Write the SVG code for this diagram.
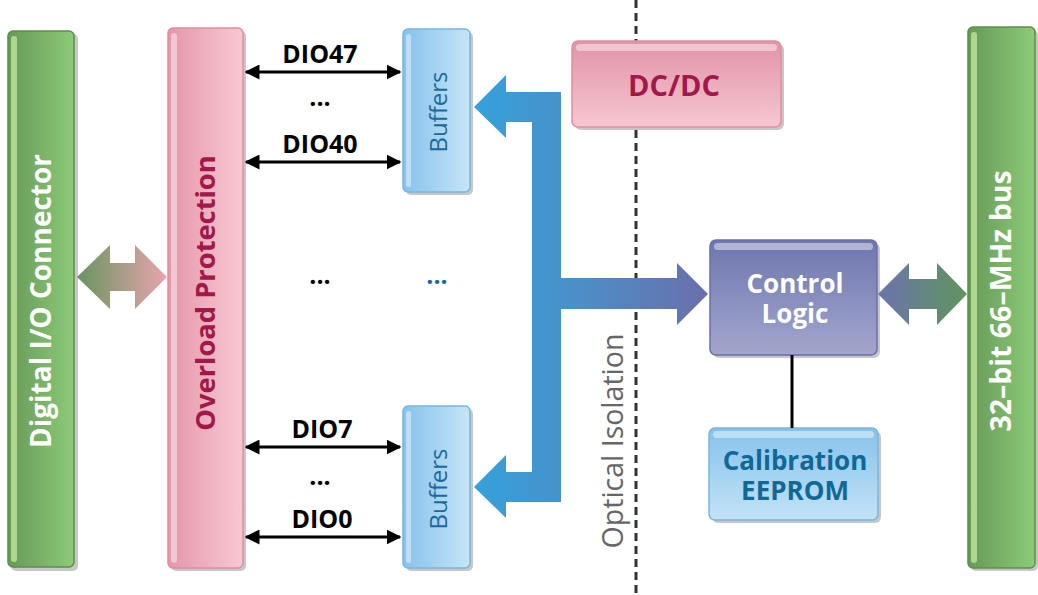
<svg xmlns="http://www.w3.org/2000/svg" width="1038" height="595" viewBox="0 0 1038 595">
<defs>
<linearGradient id="gGreen" x1="0" y1="0" x2="1" y2="0"><stop offset="0" stop-color="#679957"/><stop offset="1" stop-color="#8ccb78"/></linearGradient>
<linearGradient id="gPink" x1="0" y1="0" x2="1" y2="0"><stop offset="0" stop-color="#e596a9"/><stop offset="1" stop-color="#f8c9d3"/></linearGradient>
<linearGradient id="gBuf" x1="0" y1="0" x2="1" y2="0"><stop offset="0" stop-color="#86c2eb"/><stop offset="1" stop-color="#c6e5f8"/></linearGradient>
<linearGradient id="gDC" x1="0" y1="0" x2="0" y2="1"><stop offset="0" stop-color="#e094a7"/><stop offset="1" stop-color="#f7c6d1"/></linearGradient>
<linearGradient id="gCtl" x1="0" y1="0" x2="0" y2="1"><stop offset="0" stop-color="#6d76ae"/><stop offset="1" stop-color="#a3a6cd"/></linearGradient>
<linearGradient id="gCal" x1="0" y1="0" x2="0" y2="1"><stop offset="0" stop-color="#86c2eb"/><stop offset="1" stop-color="#c2e3f8"/></linearGradient>
<linearGradient id="gBus" gradientUnits="userSpaceOnUse" x1="474" y1="0" x2="708" y2="0"><stop offset="0" stop-color="#34a1dc"/><stop offset="0.4" stop-color="#4a91c9"/><stop offset="1" stop-color="#6a6fac"/></linearGradient>
<linearGradient id="gL" gradientUnits="userSpaceOnUse" x1="77" y1="0" x2="167" y2="0"><stop offset="0" stop-color="#6a9460"/><stop offset="1" stop-color="#e8a4ae"/></linearGradient>
<linearGradient id="gR" gradientUnits="userSpaceOnUse" x1="878" y1="0" x2="967" y2="0"><stop offset="0" stop-color="#6c73ac"/><stop offset="1" stop-color="#5f955c"/></linearGradient>
<marker id="ah" viewBox="0 0 10 10" refX="9" refY="5" markerWidth="5" markerHeight="5" orient="auto-start-reverse" markerUnits="strokeWidth"><path d="M0,0 L10,5 L0,10 Z" fill="#000"/></marker>
</defs>
<style>
.sh{fill:#000;opacity:0.22}
.t{font-family:"Open Sans","Noto Sans","Liberation Sans",sans-serif}
.b{font-weight:bold}
.hl{fill:#ffffff;opacity:0.45}
.dio{stroke:#000;stroke-width:3;fill:none;marker-start:url(#ah);marker-end:url(#ah)}
.lbl{font-size:25px;fill:#000}
</style>

<!-- isolation line -->
<g id="isolation">
<line x1="636" y1="0" x2="636" y2="595" stroke="#333" stroke-width="3" stroke-dasharray="8,5"/>
<text class="t" x="0" y="0" transform="translate(623,441) rotate(-90)" text-anchor="middle" font-size="28.5" fill="#666">Optical Isolation</text>
</g>

<g id="dio-connector">
<rect class="sh" x="11" y="34" width="67" height="537" rx="5"/>
<rect x="8" y="31" width="66" height="536" rx="5" fill="url(#gGreen)" stroke="#5e8d4e" stroke-width="1.5"/>
<rect x="11" y="36" width="6" height="526" rx="3" fill="#c2e59a" opacity="0.8"/>
<text class="t b" transform="translate(51,301) rotate(-90)" text-anchor="middle" font-size="28" fill="#fff">Digital I/O Connector</text>
</g>

<g id="overload">
<rect class="sh" x="171" y="31" width="75" height="540" rx="5"/>
<rect x="168" y="28" width="75" height="540" rx="5" fill="url(#gPink)" stroke="#e08ea0" stroke-width="1.5"/>
<rect x="171" y="33" width="6" height="530" rx="3" class="hl"/>
<text class="t b" transform="translate(215,293) rotate(-90)" text-anchor="middle" font-size="27.3" fill="#a2184a">Overload Protection</text>
</g>

<g id="buffers-top">
<rect class="sh" x="406" y="32" width="67" height="163" rx="5"/>
<rect x="403" y="29" width="67" height="163" rx="5" fill="url(#gBuf)" stroke="#78b6df" stroke-width="1.5"/>
<rect x="406" y="34" width="5" height="153" rx="2.5" class="hl"/>
<text class="t" transform="translate(447,112) rotate(-90)" text-anchor="middle" font-size="24" fill="#1a6a9c">Buffers</text>
</g>

<g id="buffers-bottom">
<rect class="sh" x="406" y="409" width="67" height="162" rx="5"/>
<rect x="403" y="406" width="67" height="162" rx="5" fill="url(#gBuf)" stroke="#78b6df" stroke-width="1.5"/>
<rect x="406" y="411" width="5" height="152" rx="2.5" class="hl"/>
<text class="t" transform="translate(447,489) rotate(-90)" text-anchor="middle" font-size="24" fill="#1a6a9c">Buffers</text>
</g>

<g id="dcdc">
<rect class="sh" x="575" y="44" width="209" height="86" rx="6"/>
<rect x="572" y="41" width="209" height="86" rx="6" fill="url(#gDC)" stroke="#e08ea0" stroke-width="1.5"/>
<rect x="576" y="44" width="201" height="7" rx="3.5" class="hl"/>
<text class="t b" x="674" y="96" text-anchor="middle" font-size="29" fill="#a2184a">DC/DC</text>
</g>

<g id="control-logic">
<rect class="sh" x="713" y="243" width="167" height="115" rx="6"/>
<rect x="710" y="240" width="167" height="115" rx="6" fill="url(#gCtl)" stroke="#6a70a8" stroke-width="1.5"/>
<rect x="714" y="243" width="159" height="7" rx="3.5" class="hl"/>
<text class="t b" x="795" y="293" text-anchor="middle" font-size="26" fill="#fff">Control</text>
<text class="t b" x="795" y="323" text-anchor="middle" font-size="26" fill="#fff">Logic</text>
</g>

<g id="calibration">
<rect class="sh" x="712" y="431" width="169" height="92" rx="6"/>
<rect x="709" y="428" width="169" height="92" rx="6" fill="url(#gCal)" stroke="#78b6df" stroke-width="1.5"/>
<rect x="713" y="431" width="161" height="7" rx="3.5" class="hl"/>
<text class="t b" x="795" y="470" text-anchor="middle" font-size="26" fill="#0e6996">Calibration</text>
<text class="t b" x="795" y="500" text-anchor="middle" font-size="26" fill="#0e6996">EEPROM</text>
</g>

<g id="pci-bus">
<rect class="sh" x="971" y="30" width="67" height="541" rx="5"/>
<rect x="968" y="27" width="67" height="541" rx="5" fill="url(#gGreen)" stroke="#5e8d4e" stroke-width="1.5"/>
<rect x="971" y="32" width="6" height="531" rx="3" fill="#c2e59a" opacity="0.8"/>
<text class="t b" transform="translate(1011,301) rotate(-90)" text-anchor="middle" font-size="28.5" fill="#fff">32–bit 66–MHz bus</text>
</g>

<g id="connectors">
<path d="M77,277 L110,245 L110,263 L135,263 L135,245 L167,277 L135,309 L135,291 L110,291 L110,309 Z" fill="url(#gL)"/>
<path d="M878,294 L909,263 L909,279 L937,279 L937,263 L967,294 L937,325 L937,309 L909,309 L909,325 Z" fill="url(#gR)"/>
<path d="M474,107 L506,75 L506,92 L561,92 L561,278 L677,278 L677,263 L708,294 L677,325 L677,309 L561,309 L561,502 L506,502 L506,518 L474,487 L506,455 L506,472 L532,472 L532,122 L506,122 L506,138 Z" fill="url(#gBus)"/>
<line x1="792" y1="355" x2="792" y2="428" stroke="#000" stroke-width="3"/>
<line class="dio" x1="246" y1="72" x2="400" y2="72"/>
<line class="dio" x1="246" y1="162" x2="400" y2="162"/>
<line class="dio" x1="246" y1="447" x2="400" y2="447"/>
<line class="dio" x1="246" y1="537" x2="400" y2="537"/>
<text class="t b lbl" x="320" y="63" text-anchor="middle">DIO47</text>
<text class="t b lbl" x="320" y="106" text-anchor="middle">...</text>
<text class="t b lbl" x="320" y="153" text-anchor="middle">DIO40</text>
<text class="t b lbl" x="320" y="284" text-anchor="middle">...</text>
<text class="t b lbl" x="437" y="284" text-anchor="middle" style="fill:#1a6a9c">...</text>
<text class="t b lbl" x="322" y="438" text-anchor="middle">DIO7</text>
<text class="t b lbl" x="320" y="485" text-anchor="middle">...</text>
<text class="t b lbl" x="322" y="528" text-anchor="middle">DIO0</text>
</g>
</svg>
